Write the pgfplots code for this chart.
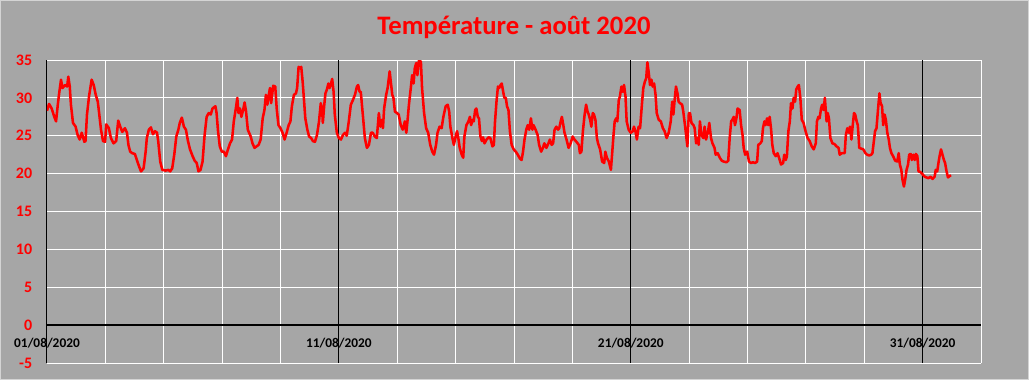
\documentclass[border=0pt]{standalone}
\usepackage{pgfplots}
\pgfplotsset{compat=1.18}
\usepackage{fontspec}
\setmainfont{Carlito}
\definecolor{bg}{HTML}{A6A6A6}
\definecolor{brd}{HTML}{D4D4D4}
\begin{document}
\begin{tikzpicture}
\fill[bg] (0,0) rectangle (771.75pt,285pt);
\draw[brd, line width=0.75pt] (0.375pt,0.375pt) rectangle (771.375pt,284.625pt);
\useasboundingbox (0,0) rectangle (771.75pt,285pt);
\node[anchor=base, text=red, font=\fontsize{20}{24}\selectfont\bfseries] at (385.5pt,259.3pt) {Température - août 2020};
\begin{axis}[
  at={(35.25pt,12.75pt)}, anchor=south west,
  scale only axis, width=700.5pt, height=227.25pt,
  xmin=0, xmax=32, ymin=-5, ymax=35,
  axis line style={draw=none},
  major tick length=0pt,
  xtick={0,2,...,32}, xticklabels={},
  extra x ticks={0,10,20,30},
  extra x tick labels={01/08/2020,11/08/2020,21/08/2020,31/08/2020},
  extra x tick style={grid=major, major grid style={black, line width=0.75pt},
     xticklabel style={anchor=center, yshift=14.6pt, text=black, font=\fontsize{10}{12}\selectfont\bfseries}},
  ytick={-5,0,...,35},
  grid=major, major grid style={white, line width=0.75pt},
  yticklabel style={anchor=east, inner sep=0pt, xshift=-10.9pt, text=red, font=\fontsize{12}{14}\selectfont\bfseries},
  /pgf/number format/assume math mode=true,
]
\addplot[red, line width=1.9pt, line join=round, no marks] table {
x y
0.00 28.3
0.07 29.2
0.16 28.6
0.25 27.5
0.31 26.9
0.37 29.1
0.41 30.4
0.48 32.4
0.53 31.3
0.62 31.7
0.69 31.5
0.73 32.8
0.78 31.5
0.82 29.1
0.89 26.7
0.98 26.2
1.05 25.1
1.12 24.5
1.19 25.4
1.28 24.2
1.32 24.3
1.37 27.8
1.44 30.2
1.53 32.4
1.60 31.7
1.67 30.4
1.74 29.5
1.78 28.2
1.85 25.8
1.92 24.3
1.99 24.2
2.03 26.5
2.12 26.0
2.19 24.7
2.28 24.0
2.37 24.3
2.44 27.0
2.51 26.2
2.58 25.5
2.67 26.0
2.74 25.4
2.79 23.8
2.85 22.9
2.92 22.7
3.01 22.6
3.08 21.8
3.15 21.0
3.22 20.3
3.31 20.7
3.38 22.9
3.42 24.7
3.49 25.8
3.56 26.1
3.63 25.2
3.70 25.6
3.77 25.4
3.81 24.3
3.88 21.6
3.95 20.5
4.06 20.4
4.16 20.5
4.22 20.3
4.29 20.7
4.36 22.5
4.43 24.9
4.50 25.8
4.55 26.7
4.62 27.4
4.69 26.2
4.76 25.8
4.83 24.3
4.90 23.2
4.99 22.3
5.06 21.7
5.13 21.4
5.19 20.3
5.26 20.5
5.33 21.6
5.40 25.1
5.47 27.5
5.54 28.0
5.61 27.8
5.67 28.6
5.77 28.9
5.81 28.0
5.86 25.6
5.92 23.6
5.99 22.9
6.06 22.9
6.13 22.3
6.20 23.2
6.27 24.0
6.34 24.5
6.40 26.9
6.47 28.6
6.52 30.0
6.56 28.0
6.61 28.6
6.66 27.5
6.72 28.4
6.77 29.4
6.82 28.2
6.88 25.8
6.98 24.9
7.04 24.0
7.11 23.4
7.18 23.6
7.25 23.8
7.32 24.5
7.39 27.3
7.45 28.4
7.50 30.4
7.55 29.1
7.59 30.2
7.64 31.3
7.68 29.3
7.75 31.6
7.82 31.5
7.87 28.6
7.93 26.4
8.00 26.0
8.07 25.4
8.14 24.5
8.21 25.4
8.28 26.4
8.34 26.9
8.39 28.9
8.46 30.4
8.53 30.6
8.57 31.3
8.62 34.1
8.67 33.9
8.71 34.1
8.76 32.1
8.80 30.0
8.85 27.3
8.92 25.8
8.98 24.9
9.05 24.7
9.11 24.3
9.18 24.2
9.25 25.1
9.32 26.9
9.38 29.3
9.43 28.2
9.45 26.7
9.50 29.1
9.54 30.6
9.59 31.1
9.64 31.9
9.68 31.3
9.73 31.9
9.77 32.5
9.82 30.8
9.86 27.8
9.93 25.4
10.00 24.7
10.07 24.5
10.14 25.1
10.21 25.4
10.27 25.0
10.34 26.9
10.41 29.1
10.48 29.7
10.55 30.4
10.62 31.5
10.66 31.7
10.71 30.8
10.75 30.8
10.82 27.8
10.89 24.7
10.96 23.4
11.03 23.8
11.10 25.4
11.16 25.4
11.23 24.9
11.30 24.7
11.37 28.0
11.42 26.2
11.46 27.1
11.51 26.0
11.55 28.6
11.62 30.4
11.67 31.3
11.74 33.5
11.78 32.1
11.83 30.4
11.87 30.0
11.92 28.2
11.99 28.0
12.05 27.8
12.12 26.4
12.19 25.8
12.26 26.9
12.31 25.4
12.35 26.9
12.40 29.1
12.47 31.5
12.51 33.0
12.56 31.9
12.60 33.9
12.65 34.6
12.69 33.0
12.74 34.9
12.81 34.8
12.85 31.3
12.92 28.0
12.99 26.0
13.06 25.4
13.13 23.8
13.20 22.9
13.26 22.5
13.33 23.8
13.38 25.4
13.45 26.2
13.52 26.0
13.58 27.5
13.66 28.9
13.73 29.1
13.78 28.2
13.82 26.2
13.89 24.7
13.94 23.8
14.01 25.1
14.05 25.6
14.10 24.5
14.14 23.4
14.21 22.5
14.26 22.1
14.30 24.9
14.37 26.4
14.44 26.9
14.49 27.5
14.53 26.4
14.58 27.1
14.62 26.9
14.67 28.4
14.71 28.6
14.76 27.5
14.80 27.3
14.85 24.9
14.90 24.3
14.94 24.8
14.99 24.0
15.06 24.5
15.13 24.8
15.19 24.7
15.26 23.6
15.31 23.8
15.35 26.9
15.40 29.5
15.45 31.5
15.49 31.3
15.54 31.7
15.58 31.9
15.63 30.8
15.67 30.0
15.72 30.0
15.76 28.9
15.81 28.4
15.86 25.6
15.92 23.8
15.99 23.2
16.06 22.9
16.13 22.5
16.20 22.0
16.26 21.8
16.31 22.9
16.36 24.5
16.42 25.8
16.47 26.4
16.52 25.8
16.58 27.3
16.63 25.8
16.67 26.4
16.74 25.8
16.81 25.1
16.86 23.8
16.93 22.9
16.99 23.4
17.04 24.0
17.11 23.4
17.18 24.0
17.23 24.5
17.29 23.8
17.34 24.0
17.39 25.8
17.45 26.2
17.51 25.8
17.55 26.0
17.60 26.9
17.64 27.5
17.69 26.4
17.73 25.4
17.80 24.5
17.87 23.4
17.94 24.0
18.01 24.9
18.07 24.5
18.14 24.2
18.22 23.8
18.26 22.7
18.31 22.9
18.36 25.6
18.42 27.8
18.47 29.1
18.52 28.2
18.56 27.8
18.61 27.1
18.65 26.2
18.70 28.0
18.74 27.8
18.79 27.1
18.84 24.7
18.88 24.0
18.95 23.2
19.02 21.6
19.09 21.4
19.13 22.9
19.18 22.1
19.25 21.6
19.32 20.5
19.36 22.5
19.41 25.1
19.45 26.9
19.50 27.3
19.54 26.9
19.59 29.7
19.63 30.2
19.68 31.5
19.73 30.8
19.77 31.7
19.82 30.2
19.86 26.9
19.93 25.8
20.00 25.4
20.07 25.6
20.11 26.2
20.16 25.6
20.21 24.5
20.27 26.2
20.32 26.0
20.39 29.5
20.43 31.3
20.48 32.1
20.53 32.6
20.57 34.7
20.62 33.2
20.66 31.7
20.71 32.4
20.75 31.5
20.80 31.9
20.85 30.4
20.89 28.0
20.96 27.1
21.03 26.9
21.10 26.0
21.16 25.6
21.23 24.7
21.30 25.4
21.37 26.9
21.42 29.5
21.46 27.8
21.51 30.0
21.55 31.5
21.60 30.6
21.64 29.5
21.69 29.3
21.76 29.1
21.80 28.2
21.87 26.0
21.94 23.6
21.99 28.0
22.03 28.0
22.08 26.7
22.15 26.4
22.19 26.0
22.24 24.0
22.28 24.7
22.33 23.8
22.37 26.9
22.42 25.1
22.49 24.7
22.53 26.2
22.58 24.5
22.65 25.6
22.69 26.7
22.75 24.7
22.80 24.0
22.87 23.4
22.91 22.5
22.98 22.7
23.05 22.1
23.12 21.7
23.18 21.6
23.28 21.5
23.34 21.7
23.39 24.7
23.44 26.9
23.48 27.1
23.53 27.5
23.57 26.4
23.62 27.3
23.66 28.6
23.73 28.4
23.78 26.4
23.83 25.1
23.87 23.4
23.92 22.5
23.99 22.9
24.05 21.6
24.12 21.4
24.19 21.5
24.26 21.4
24.33 21.6
24.37 23.8
24.44 24.0
24.49 24.3
24.53 26.0
24.58 26.9
24.62 26.4
24.67 27.3
24.71 26.4
24.76 27.5
24.81 25.8
24.85 23.8
24.90 22.7
24.97 22.3
25.03 22.7
25.08 22.1
25.15 21.2
25.22 21.4
25.26 22.5
25.31 21.8
25.35 22.3
25.40 25.6
25.45 26.9
25.49 29.3
25.54 28.6
25.58 30.0
25.63 29.5
25.67 31.1
25.72 31.5
25.76 31.7
25.81 30.0
25.86 27.1
25.92 26.7
25.99 25.6
26.06 24.7
26.13 24.3
26.20 23.6
26.27 23.2
26.34 24.0
26.38 26.9
26.43 27.5
26.47 27.3
26.52 28.6
26.56 29.1
26.61 28.4
26.65 30.0
26.71 26.9
26.75 28.0
26.79 27.3
26.84 24.7
26.91 24.0
26.98 23.9
27.05 23.6
27.12 23.4
27.16 22.5
27.23 22.7
27.33 22.7
27.37 25.1
27.42 26.0
27.47 25.4
27.51 26.2
27.56 24.5
27.60 26.2
27.65 28.0
27.69 27.8
27.74 26.9
27.78 26.4
27.83 23.4
27.90 23.3
27.97 23.2
28.04 22.7
28.10 22.5
28.17 22.4
28.24 22.5
28.28 22.7
28.33 24.3
28.37 25.6
28.42 26.0
28.47 28.4
28.52 30.6
28.56 29.3
28.61 28.9
28.65 26.4
28.70 27.8
28.74 27.1
28.79 25.4
28.84 24.5
28.88 23.4
28.93 22.7
28.99 22.3
29.06 21.7
29.13 21.6
29.18 22.7
29.22 21.2
29.27 20.5
29.31 19.2
29.36 18.3
29.41 19.4
29.45 20.5
29.50 21.2
29.54 22.5
29.59 22.6
29.63 21.8
29.68 22.5
29.73 21.8
29.77 22.6
29.82 22.3
29.86 20.3
29.93 20.2
30.00 19.9
30.07 19.6
30.13 19.5
30.20 19.4
30.27 19.6
30.34 19.3
30.41 19.6
30.45 20.5
30.50 20.3
30.55 21.6
30.59 22.5
30.63 23.2
30.68 22.5
30.73 21.8
30.77 21.4
30.82 20.3
30.87 19.5
30.90 19.6
30.97 19.8
};
\draw[black, line width=1.6pt] (axis cs:0,0) -- (axis cs:32,0);
\end{axis}
\end{tikzpicture}
\end{document}
